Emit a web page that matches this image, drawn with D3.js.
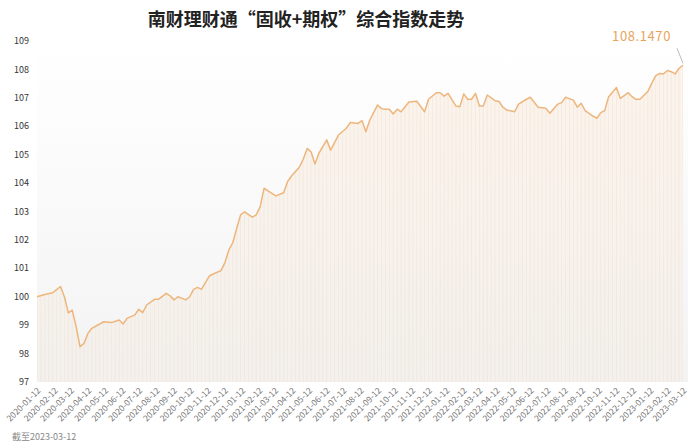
<!DOCTYPE html>
<html><head><meta charset="utf-8">
<script src="https://cdn.jsdelivr.net/npm/d3@7"></script>
<style>html,body{margin:0;padding:0;background:#fff;}svg{display:block;}</style>
</head><body><svg id="c" width="700" height="448"></svg>
<script>
const dates = ["2020-01-12","2020-01-26","2020-02-09","2020-02-16","2020-02-23","2020-03-01","2020-03-08","2020-03-15","2020-03-22","2020-03-29",
"2020-04-05","2020-04-12","2020-04-19","2020-05-03","2020-05-10","2020-05-24","2020-06-07","2020-06-14","2020-06-21","2020-07-05",
"2020-07-12","2020-07-19","2020-07-26","2020-08-09","2020-08-16","2020-08-30","2020-09-06","2020-09-13","2020-09-20","2020-10-04",
"2020-10-11","2020-10-18","2020-10-25","2020-11-01","2020-11-15","2020-11-22","2020-12-06","2020-12-13","2020-12-20","2020-12-27",
"2021-01-03","2021-01-10","2021-01-17","2021-01-31","2021-02-07","2021-02-14","2021-02-21","2021-02-28","2021-03-14","2021-03-28",
"2021-04-04","2021-04-11","2021-04-25","2021-05-02","2021-05-09","2021-05-16","2021-05-23","2021-05-30","2021-06-13","2021-06-20",
"2021-07-04","2021-07-18","2021-07-25","2021-08-08","2021-08-15","2021-08-22","2021-08-29","2021-09-12","2021-09-19","2021-09-26",
"2021-10-03","2021-10-10","2021-10-17","2021-10-24","2021-11-07","2021-11-21","2021-12-05","2021-12-12","2021-12-26","2022-01-02",
"2022-01-09","2022-01-16","2022-01-30","2022-02-06","2022-02-13","2022-02-20","2022-02-27","2022-03-06","2022-03-13","2022-03-20",
"2022-03-27","2022-04-10","2022-04-17","2022-04-24","2022-05-01","2022-05-15","2022-05-22","2022-06-05","2022-06-12","2022-06-26",
"2022-07-10","2022-07-17","2022-07-31","2022-08-07","2022-08-14","2022-08-28","2022-09-04","2022-09-11","2022-09-18","2022-10-02",
"2022-10-09","2022-10-16","2022-10-23","2022-10-30","2022-11-06","2022-11-13","2022-11-20","2022-12-04","2022-12-11","2022-12-18",
"2022-12-25","2023-01-08","2023-01-15","2023-01-22","2023-01-29","2023-02-05","2023-02-12","2023-02-19","2023-02-26","2023-03-05",
"2023-03-12"];
const values = [100.00,100.08,100.14,100.25,100.36,100.00,99.43,99.53,98.95,98.24,
98.36,98.71,98.89,99.04,99.12,99.09,99.18,99.04,99.24,99.36,
99.56,99.44,99.71,99.91,99.91,100.12,100.03,99.89,100.00,99.89,
100.00,100.26,100.33,100.26,100.73,100.80,100.92,101.20,101.65,101.90,
102.40,102.88,102.99,102.80,102.88,103.17,103.82,103.73,103.55,103.66,
104.05,104.25,104.56,104.84,105.22,105.10,104.67,105.05,105.52,105.16,
105.69,105.93,106.13,106.10,106.20,105.81,106.22,106.75,106.62,106.60,
106.60,106.43,106.60,106.51,106.85,106.88,106.51,106.95,107.18,107.18,
107.06,107.16,106.71,106.69,107.14,106.95,106.95,107.16,106.71,106.71,
107.10,106.90,106.87,106.67,106.57,106.51,106.78,106.95,107.02,106.67,
106.63,106.46,106.78,106.83,107.02,106.92,106.67,106.81,106.55,106.36,
106.28,106.48,106.55,107.04,107.20,107.36,106.98,107.18,107.04,106.95,
106.95,107.22,107.51,107.77,107.86,107.84,107.96,107.92,107.84,108.04,
108.147];
const tickLabels = ["2020-01-12","2020-02-12","2020-03-12","2020-04-12","2020-05-12","2020-06-12","2020-07-12","2020-08-12","2020-09-12","2020-10-12",
"2020-11-12","2020-12-12","2021-01-12","2021-02-12","2021-03-12","2021-04-12","2021-05-12","2021-06-12","2021-07-12","2021-08-12",
"2021-09-12","2021-10-12","2021-11-12","2021-12-12","2022-01-12","2022-02-12","2022-03-12","2022-04-12","2022-05-12","2022-06-12",
"2022-07-12","2022-08-12","2022-09-12","2022-10-12","2022-11-12","2022-12-12","2023-01-12","2023-02-12","2023-03-12"];
const yTicks = [97,98,99,100,101,102,103,104,105,106,107,108,109];
const title = "南财理财通“固收+期权”综合指数走势";
const lastLabel = "108.1470";
const footnote = "截至2023-03-12";

const parse = d3.timeParse("%Y-%m-%d");
const data = dates.map((d,i)=>({date:parse(d), value:values[i]}));
const svg = d3.select("#c");
const x = d3.scaleTime().domain([parse("2020-01-12"), parse("2023-03-12")]).range([37,683]);
const y = d3.scaleLinear().domain([97,109]).range([382,41]);
const FONT = "'Noto Sans CJK SC','Noto Sans',sans-serif";

const defs = svg.append("defs");
const bg = defs.append("linearGradient").attr("id","bg").attr("x1",0).attr("y1",0).attr("x2",0).attr("y2",1);
bg.append("stop").attr("offset","0%").attr("stop-color","#ffffff");
bg.append("stop").attr("offset","100%").attr("stop-color","#f3f3f3");
const ag = defs.append("linearGradient").attr("id","ag").attr("x1",0).attr("y1",0).attr("x2",0).attr("y2",1);
ag.append("stop").attr("offset","0%").attr("stop-color","#fcf4ec");
ag.append("stop").attr("offset","100%").attr("stop-color","#f3f0ed");
defs.append("clipPath").attr("id","areaClip").append("path")
  .attr("d", d3.area().x(d=>x(d.date)).y0(y(97)).y1(d=>y(d.value))(data));

// plot background
svg.append("rect").attr("x",37).attr("y",y(109)).attr("width",651).attr("height",y(97)-y(109)).attr("fill","url(#bg)");

// area fill
svg.append("path").datum(data).attr("fill","url(#ag)")
  .attr("d", d3.area().x(d=>x(d.date)).y0(y(97)).y1(d=>y(d.value)));
// weekly stripes under the line
const weeks = d3.timeWeek.range(x.domain()[0], d3.timeDay.offset(x.domain()[1],1));
svg.append("g").attr("clip-path","url(#areaClip)").selectAll("line").data(weeks).join("line")
  .attr("x1",d=>x(d)).attr("x2",d=>x(d)).attr("y1",y(109)).attr("y2",y(97))
  .attr("stroke","#efe2d4").attr("stroke-width",0.7).attr("opacity",0.75);

// line
svg.append("path").datum(data).attr("fill","none").attr("stroke","#eeb57c").attr("stroke-width",1.5)
  .attr("stroke-linejoin","round")
  .attr("d", d3.line().x(d=>x(d.date)).y(d=>y(d.value)));

// y axis labels
svg.append("g").selectAll("text").data(yTicks).join("text")
  .attr("x",29).attr("y",d=>y(d)).attr("dy","0.35em").attr("text-anchor","end")
  .attr("font-family",FONT).attr("font-size",9).attr("fill","#333").text(d=>d);

// x axis labels
svg.append("g").selectAll("text").data(tickLabels).join("text")
  .attr("transform",d=>`translate(${x(parse(d))+2},${389}) rotate(-45)`)
  .attr("text-anchor","end").attr("dy","0.35em")
  .attr("font-family",FONT).attr("font-size",8.5).attr("fill","#777").text(d=>d);

// title
svg.append("text").attr("x",306).attr("y",26).attr("text-anchor","middle")
  .attr("font-family",FONT).attr("font-weight","bold").attr("font-size",18).attr("fill","#222").text(title);

// last value annotation
const last = data[data.length-1];
svg.append("line").attr("x1",x(last.date)-6).attr("y1",y(last.value)-17).attr("x2",x(last.date)).attr("y2",y(last.value)-2)
  .attr("stroke","#aaa").attr("stroke-width",0.8);
svg.append("text").attr("x",x(last.date)-12).attr("y",41).attr("text-anchor","end")
  .attr("font-family",FONT).attr("font-size",13).attr("fill","#e9a45c").attr("letter-spacing","0.6").text(lastLabel);

// footnote
svg.append("text").attr("x",12).attr("y",440)
  .attr("font-family",FONT).attr("font-size",9).attr("fill","#888").text(footnote);
</script></body></html>
